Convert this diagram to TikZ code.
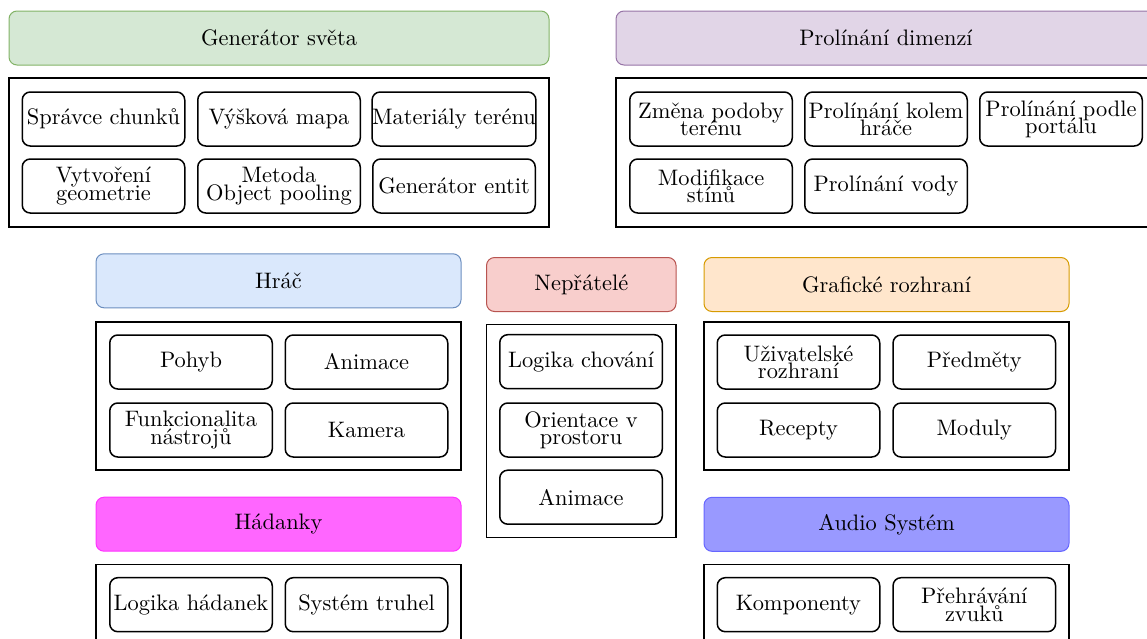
\documentclass[tikz,border=0pt]{standalone}
\usepackage{fontspec}
\setmainfont{lmroman10-regular.otf}
\usepackage{xcolor}
\usepackage{tikz}

\definecolor{genfill}{HTML}{D5E8D4}
\definecolor{gendraw}{HTML}{82B366}
\definecolor{dimfill}{HTML}{E1D5E7}
\definecolor{dimdraw}{HTML}{9673A6}
\definecolor{hracfill}{HTML}{DAE8FC}
\definecolor{hracdraw}{HTML}{6C8EBF}
\definecolor{nepfill}{HTML}{F8CECC}
\definecolor{nepdraw}{HTML}{B85450}
\definecolor{guifill}{HTML}{FFE6CC}
\definecolor{guidraw}{HTML}{D79B00}
\definecolor{hadfill}{HTML}{FF66FF}
\definecolor{haddraw}{HTML}{FF33FF}
\definecolor{audfill}{HTML}{9999FF}
\definecolor{auddraw}{HTML}{6666FF}

\tikzset{
    txt/.style={font={\fontsize{11.2}{8.6}\selectfont\lineskiplimit=-20pt}},
    header/.style={txt, draw, line width=0.5pt, rounded corners=4pt, inner sep=0pt, minimum height=27pt},
    item/.style={txt, draw, line width=0.75pt, rounded corners=4pt, inner sep=0pt, align=center, minimum width=81.25pt, minimum height=27pt},
    group/.style={draw, line width=0.8pt},
}

\begin{document}
\begin{tikzpicture}[x=0.5pt, y=-0.5pt]

        \useasboundingbox (0, 0) rectangle (1147, 638);
        \clip (0, 0) rectangle (1147, 638);

        % Generator sveta
        \node[header, fill=genfill, draw=gendraw, minimum width=270pt] (gen) at (279, 38) {Generátor světa};
        \draw[group] (9, 78) rectangle (549, 227);
        \foreach \x/\y/\t [count=\i] in {103.5/119/{Správce chunků}, 279/119/{Výšková mapa}, 454/119/{Materiály terénu}, 103.5/186/{Vytvoření\\geometrie}, 279/186/{Metoda\\Object pooling}, 454/186/{Generátor entit}} {
            \node[item] (gen\i) at (\x, \y) {\t};
        }

        % Prolinani dimenzi
        \node[header, fill=dimfill, draw=dimdraw, minimum width=270pt] (dim) at (886, 38) {Prolínání dimenzí};
        \draw[group] (616, 78) rectangle (1156, 227);
        \foreach \x/\y/\t [count=\i] in {711/119/{Změna podoby\\terénu}, 886/119/{Prolínání kolem\\hráče}, 1061/119/{Prolínání podle\\portálu}, 711/186/{Modifikace\\stínů}, 886/186/{Prolínání vody}} {
            \node[item] (dim\i) at (\x, \y) {\t};
        }

        % Hrac
        \node[header, fill=hracfill, draw=hracdraw, minimum width=182.5pt] (hrac) at (278.5, 280.8) {Hráč};
        \draw[group] (96, 321.7) rectangle (461, 470);
        \foreach \x/\y/\t [count=\i] in {191/362/Pohyb, 366.5/362/Animace, 191/430/{Funkcionalita\\nástrojů}, 366.5/430/Kamera} {
            \node[item] (hrac\i) at (\x, \y) {\t};
        }

        % Hadanky
        \node[header, fill=hadfill, draw=haddraw, minimum width=182.5pt] (had) at (278.5, 524.2) {Hádanky};
        \draw[group] (96, 564.3) rectangle (461, 648);
        \foreach \x/\y/\t [count=\i] in {191/604.7/{Logika hádanek}, 366.5/604.7/{Systém truhel}} {
            \node[item] (had\i) at (\x, \y) {\t};
        }

        % Nepratele
        \node[header, fill=nepfill, draw=nepdraw, minimum width=94.75pt] (nep) at (581.3, 284.5) {Nepřátelé};
        \draw[group] (486.5, 324.3) rectangle (676, 537.3);
        \foreach \y/\t [count=\i] in {361.7/{Logika chování}, 430/{Orientace v\\prostoru}, 497.2/Animace} {
            \node[item] (nep\i) at (581, \y) {\t};
        }

        % Graficke rozhrani
        \node[header, fill=guifill, draw=guidraw, minimum width=182.5pt] (gui) at (886.5, 284.5) {Grafické rozhraní};
        \draw[group] (704, 321.7) rectangle (1069, 470);
        \foreach \x/\y/\t [count=\i] in {798.5/362/{Uživatelské\\rozhraní}, 974.3/362/Předměty, 798.5/430/Recepty, 974.3/430/Moduly} {
            \node[item] (gui\i) at (\x, \y) {\t};
        }

        % Audio system
        \node[header, fill=audfill, draw=auddraw, minimum width=182.5pt] (aud) at (886.5, 524.3) {Audio Systém};
        \draw[group] (704, 564.3) rectangle (1069, 648);
        \foreach \x/\y/\t [count=\i] in {798.5/604.7/Komponenty, 974.3/604.7/{Přehrávání\\zvuků}} {
            \node[item] (aud\i) at (\x, \y) {\t};
        }

    \end{tikzpicture}
\end{document}
